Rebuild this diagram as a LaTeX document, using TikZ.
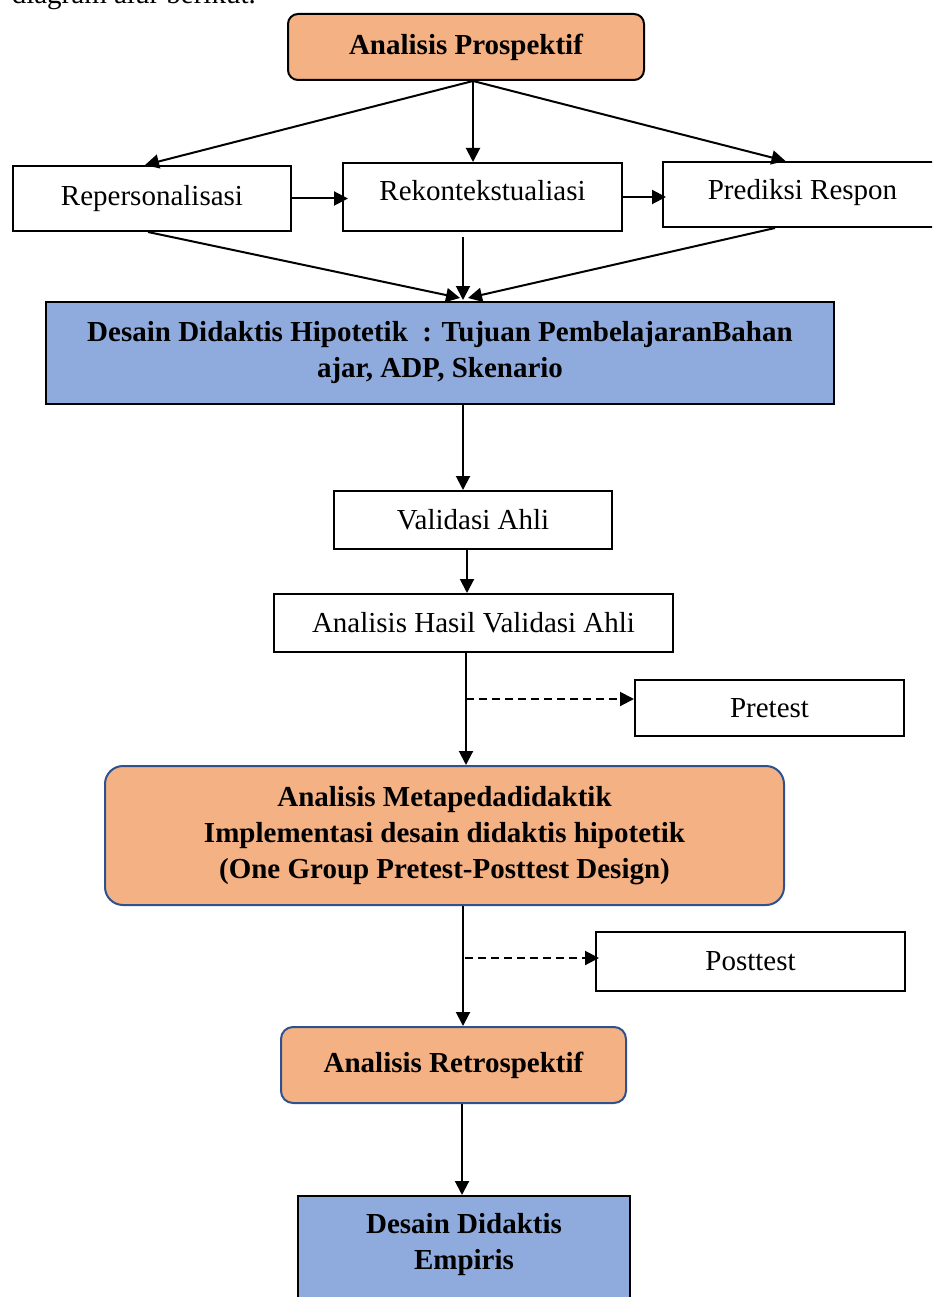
\documentclass[tikz,border=0pt]{standalone}
\usepackage{fontspec}
\setmainfont{Liberation Serif}
\usetikzlibrary{arrows.meta,calc}
\definecolor{orng}{HTML}{F4B183}
\definecolor{blu}{HTML}{8FAADC}
\definecolor{dkb}{HTML}{2F528F}
\begin{document}
\begin{tikzpicture}[x=1pt,y=-1pt,
  txt/.style={font=\fontsize{29}{36}\selectfont},
  box/.style={txt, draw=black, line width=2pt, fill=white, inner sep=0pt, align=center},
  orbox/.style={box, fill=orng, rounded corners=#1},
  blbox/.style={box, fill=blu, font=\fontsize{29}{36}\selectfont\bfseries},
  arr/.style={-{Triangle[length=14pt,width=14pt]}, line width=2pt},
  dsh/.style={arr, dash pattern=on 8pt off 5pt}]
\clip (0,0) rectangle (932,1297);
\node[txt, anchor=base east, inner sep=0pt] (intro) at (256,4) {diagram alur berikut.};
% nodes
\node[orbox=10pt, font=\fontsize{29}{36}\selectfont\bfseries, minimum width=356pt, minimum height=66pt] (ap) at (466,47) {Analisis Prospektif};
\node[box, minimum width=278pt, minimum height=65pt] (rep) at (152,198.5) {Repersonalisasi};
\node[box, minimum width=279pt, minimum height=68pt, text depth=14pt] (rek) at (482.5,197) {Rekontekstualiasi};
\node[box, minimum width=279pt, minimum height=65pt, text depth=10pt] (pre) at (802.5,194.5) {Prediksi Respon};
\node[blbox, minimum width=788pt, minimum height=102pt] (ddh) at (440,353) {Desain Didaktis Hipotetik\ \ : Tujuan PembelajaranBahan\\ajar, ADP, Skenario};
\node[box, minimum width=278pt, minimum height=58pt] (val) at (473,520) {Validasi Ahli};
\node[box, minimum width=399pt, minimum height=58pt] (ahva) at (473.5,623) {Analisis Hasil Validasi Ahli};
\node[box, minimum width=269pt, minimum height=56pt] (pret) at (769.5,708) {Pretest};
\node[orbox=18pt, draw=dkb, font=\fontsize{29}{36}\selectfont\bfseries, minimum width=679pt, minimum height=139pt] (am) at (444.5,835.5) {Analisis Metapedadidaktik\\Implementasi desain didaktis hipotetik\\(One Group Pretest-Posttest Design)};
\node[box, minimum width=309pt, minimum height=59pt] (post) at (750.5,961.5) {Posttest};
\node[orbox=12pt, draw=dkb, font=\fontsize{29}{36}\selectfont\bfseries, minimum width=345pt, minimum height=76pt] (ar) at (453.5,1065) {Analisis Retrospektif};
\node[blbox, minimum width=332pt, minimum height=104pt, text depth=14pt] (dde) at (464,1248) {Desain Didaktis\\Empiris};
% connectors
\coordinate (apx) at ($(ap.south)+(7,0)$);
\draw[arr] (apx) -- ($(rep.north)+(-7,0)$);
\draw[arr] (apx) -- (apx |- rek.north);
\draw[arr] (apx) -- ($(pre.north)+(-17,0)$);
\draw[arr] (rep.east) -- ($(rep.east -| rek.west)+(6,0)$);
\draw[arr] (rek.east) -- ($(rek.east -| pre.west)+(4,0)$);
\draw[arr] ($(rep.south)+(-4,0)$) -- ($(ddh.north)+(20,-3)$);
\draw[arr] ($(rek.south)+(-19.5,5)$) -- ($(ddh.north)+(23,-1)$);
\draw[arr] ($(pre.south)+(-27.5,0)$) -- ($(ddh.north)+(28,-3)$);
\coordinate (x1) at ($(ddh.south)+(23,0)$);
\draw[arr] (x1) -- (x1 |- val.north);
\coordinate (x2) at ($(val.south)+(-6,0)$);
\draw[arr] (x2) -- (x2 |- ahva.north);
\coordinate (x3) at ($(ahva.south)+(-7.5,0)$);
\draw[arr] (x3) -- (x3 |- am.north);
\coordinate (d1) at ($(x3 |- pret.west)+(0,-9)$);
\draw[dsh] (d1) -- ($(pret.west)+(0,-9)$);
\coordinate (x4) at ($(am.south)+(18.5,0)$);
\draw[arr] (x4) -- (x4 |- ar.north);
\coordinate (d2) at ($(x4 |- post.west)+(2,-3.5)$);
\draw[dsh] (d2) -- ($(post.west)+(4,-3.5)$);
\coordinate (x5) at ($(ar.south)+(8.5,0)$);
\draw[arr] (x5) -- (x5 |- dde.north);
\end{tikzpicture}
\end{document}
